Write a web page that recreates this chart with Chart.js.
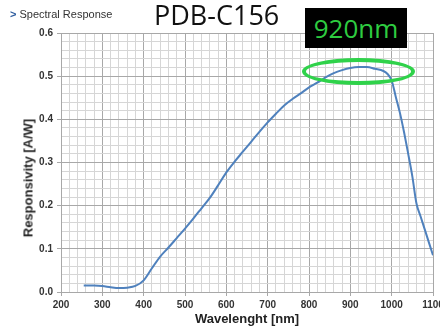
<!DOCTYPE html>
<html>
<head>
    <title>PDB-C156 Spectral Response</title>
    <script src="https://cdn.jsdelivr.net/npm/chart.js"></script>
    <style>
        body { margin: 0; background: #fff; }
        #wrap { position: relative; width: 440px; height: 329px; overflow: hidden; }
        .note { position: absolute; white-space: nowrap; }
        #section { left: 10px; top: 8px; font: 11px "Liberation Sans", Arial, sans-serif; color: #333; }
        #section b { color: #2e5c9e; font-weight: bold; margin-right: 3px; }
        #model { left: 154px; top: -4px; font: 27px "Open Sans", sans-serif; color: #111; }
        #peak { left: 305px; top: 8px; width: 102px; height: 40px; background: #000; color: #2ecc40;
                font: 26px "Open Sans", sans-serif; line-height: 40px; text-align: center; }
        #ring { left: 302px; top: 58px; width: 113px; height: 27px; border: 4px solid #2fd24a;
                border-radius: 50%; box-sizing: border-box; }
        #ytitle { left: 28px; top: 178px; font: bold 13px "Liberation Sans", Arial, sans-serif; color: #222;
                  transform: translate(-50%, -50%) rotate(-90deg); }
    </style>
</head>
<body>
<div id="wrap">
    <canvas id="respChart" width="440" height="329"></canvas>
    <div class="note" id="section"><b>&gt;</b>Spectral Response</div>
    <div class="note" id="model">PDB-C156</div>
    <div class="note" id="ytitle">Responsivity [A/W]</div>
    <div class="note" id="ring"></div>
    <div class="note" id="peak">920nm</div>
</div>
<script>
    // wavelength [nm] and responsivity [A/W]
    const wavelength = [255, 280, 300, 320, 340, 360, 380, 400, 420, 440, 460, 480, 500, 520, 540, 560,
                        580, 600, 620, 640, 660, 680, 700, 720, 740, 760, 780, 800, 820, 840, 860, 880,
                        900, 920, 940, 960, 980, 990, 1000, 1010, 1020, 1030, 1040, 1050, 1060, 1070,
                        1080, 1090, 1100];
    const responsivity = [0.015, 0.015, 0.014, 0.011, 0.009, 0.010, 0.014, 0.027, 0.055, 0.082, 0.103,
                          0.125, 0.147, 0.170, 0.194, 0.218, 0.247, 0.277, 0.302, 0.325, 0.348, 0.371,
                          0.393, 0.413, 0.432, 0.447, 0.460, 0.474, 0.485, 0.497, 0.507, 0.514, 0.519,
                          0.521, 0.521, 0.517, 0.512, 0.505, 0.490, 0.452, 0.415, 0.370, 0.320, 0.268,
                          0.205, 0.175, 0.145, 0.115, 0.085];
    const xRange = [200, 1100];
    const yRange = [0, 0.6];

    const majorColor = '#a8a8a8';
    const minorColor = '#d6d6d6';
    const tickFont = { family: '"Liberation Sans", Arial, sans-serif', size: 10, weight: 'bold' };

    const isMajorX = v => Math.round(v) % 100 === 0;
    const isMajorY = v => Math.round(v * 50) % 5 === 0;

    const points = wavelength.map((w, i) => ({ x: w, y: responsivity[i] }));

    new Chart(document.getElementById('respChart').getContext('2d'), {
        type: 'line',
        data: {
            datasets: [{
                label: 'Responsivity',
                data: points,
                borderColor: '#4f81bd',
                borderWidth: 2,
                pointRadius: 0,
                cubicInterpolationMode: 'monotone',
                fill: false
            }]
        },
        options: {
            responsive: false,
            animation: false,
            layout: { padding: { top: 33, right: 7, left: 0, bottom: 0 } },
            plugins: { legend: { display: false }, tooltip: { enabled: false } },
            scales: {
                x: {
                    type: 'linear',
                    min: xRange[0],
                    max: xRange[1],
                    afterFit: s => { s.height = 37; s.paddingLeft = 0; s.paddingRight = 0; },
                    ticks: {
                        stepSize: 20,
                        autoSkip: false,
                        maxRotation: 0,
                        padding: 3,
                        color: '#333',
                        font: tickFont,
                        callback: v => isMajorX(v) ? String(v) : ''
                    },
                    grid: {
                        color: c => isMajorX(c.tick.value) ? majorColor : minorColor,
                        tickColor: c => isMajorX(c.tick.value) ? majorColor : 'rgba(0,0,0,0)',
                        tickLength: 4
                    },
                    border: { color: majorColor },
                    title: {
                        display: true,
                        text: 'Wavelenght [nm]',
                        color: '#222',
                        font: { family: '"Liberation Sans", Arial, sans-serif', size: 13, weight: 'bold' },
                        padding: { top: 0, bottom: 2 }
                    }
                },
                y: {
                    min: yRange[0],
                    max: yRange[1],
                    afterFit: s => { s.width = 61; },
                    ticks: {
                        stepSize: 0.02,
                        autoSkip: false,
                        padding: 4,
                        color: '#333',
                        font: tickFont,
                        callback: v => isMajorY(v) ? v.toFixed(1) : ''
                    },
                    grid: {
                        color: c => isMajorY(c.tick.value) ? majorColor : minorColor,
                        tickColor: c => isMajorY(c.tick.value) ? majorColor : 'rgba(0,0,0,0)',
                        tickLength: 4
                    },
                    border: { color: majorColor }
                }
            }
        }
    });
</script>
</body>
</html>
